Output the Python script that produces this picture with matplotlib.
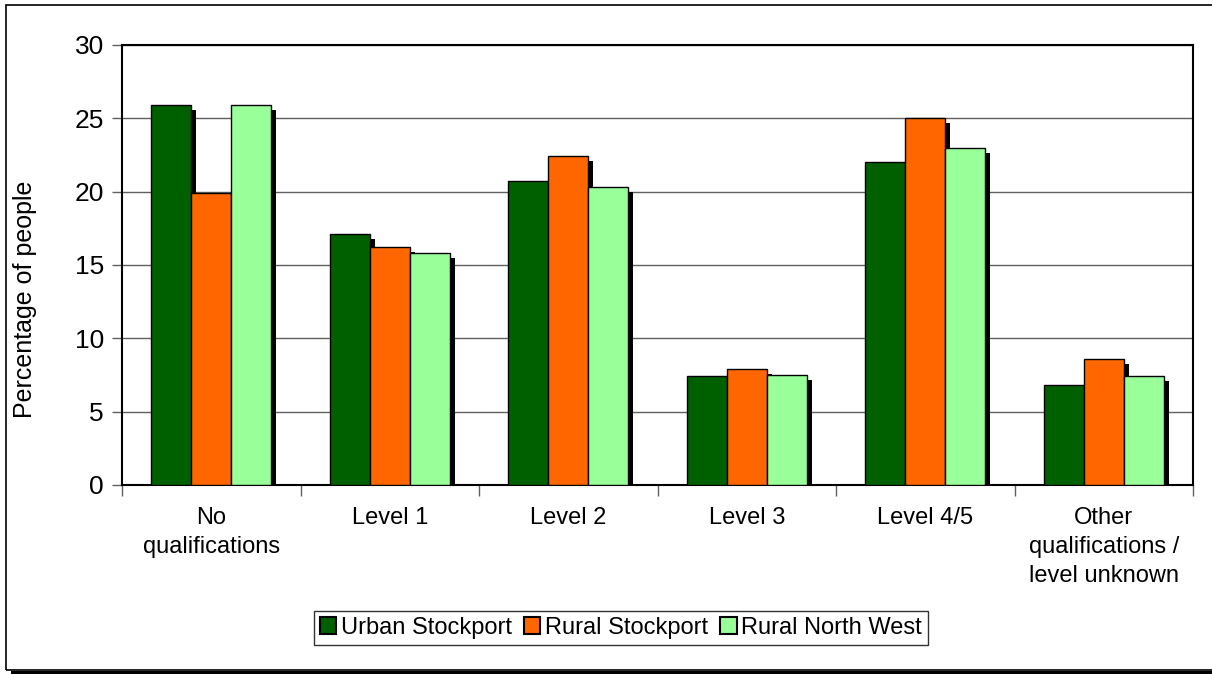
import matplotlib
matplotlib.use("Agg")
import matplotlib.pyplot as plt
import matplotlib.patheffects as pe
from matplotlib.patches import Rectangle
import numpy as np

plt.rcParams['font.family'] = ['Liberation Sans', 'DejaVu Sans']

categories = ["No\nqualifications", "Level 1", "Level 2", "Level 3", "Level 4/5",
              "Other\nqualifications /\nlevel unknown"]
series_names = ["Urban Stockport", "Rural Stockport", "Rural North West"]
urban_stockport = [25.9, 17.1, 20.7, 7.4, 22.0, 6.8]
rural_stockport = [19.9, 16.2, 22.4, 7.9, 25.0, 8.6]
rural_north_west = [25.9, 15.8, 20.3, 7.5, 23.0, 7.4]
colors = ["#006000", "#FF6600", "#99FF99"]

fig = plt.figure(figsize=(12.12, 6.74), dpi=100)
ax = fig.add_axes([122 / 1212, 1 - 485 / 674, (1193 - 122) / 1212, (485 - 45) / 674])

# outer frame with drop shadow at the bottom
fig.patches.append(Rectangle((6 / 1212, 1 - 670 / 674), 1.2, (670 - 5) / 674,
                             transform=fig.transFigure, fill=False,
                             edgecolor="black", linewidth=1.2))
fig.patches.append(Rectangle((11 / 1212, 0), 1.2, 3.5 / 674,
                             transform=fig.transFigure, facecolor="black",
                             edgecolor="none"))

x = np.arange(len(categories))
width = 0.225
shadow = [pe.SimplePatchShadow(offset=(3.6, -3.6), shadow_rgbFace="black", alpha=1.0),
          pe.Normal()]

for i, (vals, name) in enumerate(zip([urban_stockport, rural_stockport, rural_north_west],
                                     series_names)):
    bars = ax.bar(x + (i - 1) * width, vals, width, color=colors[i],
                  edgecolor="black", linewidth=1.0, label=name, zorder=3 + i)
    for b in bars:
        b.set_path_effects(shadow)

ax.set_xlim(-0.5, len(categories) - 0.5)
ax.set_ylim(0, 30)
ax.set_yticks(range(0, 31, 5))
ax.yaxis.grid(True, color="#606060", linewidth=1.0, zorder=0)
ax.set_axisbelow(True)

ax.set_xticks(x)
ax.set_xticklabels(categories, fontsize=17, linespacing=1.4)
ax.set_xticks(np.arange(-0.5, len(categories), 1), minor=True)
ax.tick_params(axis="x", which="major", length=0, pad=16)
ax.tick_params(axis="x", which="minor", length=8, width=1, color="#606060")
ax.tick_params(axis="y", length=7, width=1, color="#606060", labelsize=19, pad=6)

for s in ax.spines.values():
    s.set_linewidth(1.5)
    s.set_color("black")

ax.set_ylabel("Percentage of people", fontsize=18)
ax.yaxis.set_label_coords(-0.079, 0.423)

leg = ax.legend(loc="center", bbox_to_anchor=(621 / 1212, 1 - 628 / 674),
                bbox_transform=fig.transFigure, ncol=3, fontsize=17, frameon=True,
                fancybox=False, edgecolor="black", handlelength=0.7,
                handleheight=0.7, handletextpad=0.2, columnspacing=0.5,
                borderpad=0.25, borderaxespad=0)
leg.get_frame().set_linewidth(1.0)
for h in leg.legend_handles:
    h.set_path_effects([])
    h.set_linewidth(1.5)

fig.savefig("out.png", dpi=100)
